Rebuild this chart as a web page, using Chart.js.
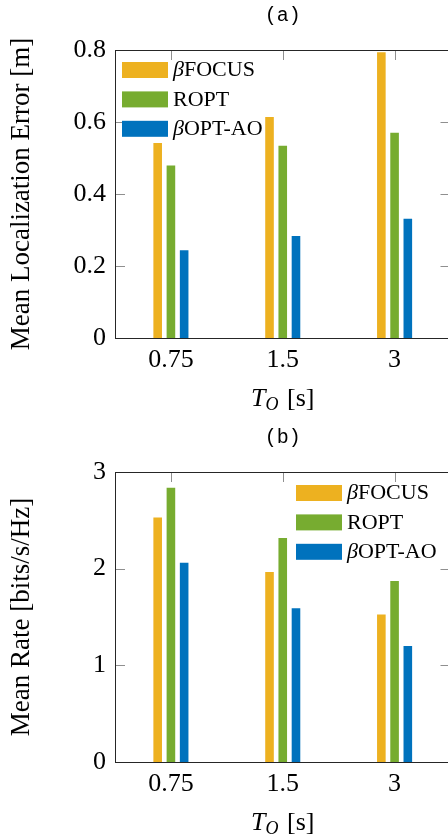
<!DOCTYPE html>
<html lang="en">
<head>
<meta charset="UTF-8">
<title>Mean localization error and mean rate vs T_O</title>
<script src="https://cdn.jsdelivr.net/npm/chart.js"></script>
<style>
    html, body { margin: 0; padding: 0; background: #fff; overflow: hidden; width: 448px; height: 835px; }
    .panel { position: absolute; left: 0; width: 460px; }
    #panel-a { top: 0; height: 412px; }
    #panel-b { top: 420px; height: 415px; }
</style>
</head>
<body>
<div class="panel" id="panel-a"><canvas id="error-chart"></canvas></div>
<div class="panel" id="panel-b"><canvas id="rate-chart"></canvas></div>

<script>
// categories: observation time T_O [s]
const periods = ['0.75', '1.5', '3'];
const methods = ['βFOCUS', 'ROPT', 'βOPT-AO'];
const methodColors = ['#EDB120', '#77AC30', '#0072BD'];

// (a) mean localization error [m]
const errorFocus = [0.542, 0.614, 0.794];
const errorRopt  = [0.479, 0.534, 0.570];
const errorAo    = [0.244, 0.283, 0.331];
const errorTicks = [0, 0.2, 0.4, 0.6, 0.8];

// (b) mean rate [bits/s/Hz]
const rateFocus = [2.53, 1.966, 1.527];
const rateRopt  = [2.836, 2.318, 1.873];
const rateAo    = [2.06, 1.59, 1.199];
const rateTicks = [0, 1, 2, 3];

const SERIF = '"Liberation Serif", "DejaVu Serif", serif';
const MONO = '"Liberation Mono", "DejaVu Sans Mono", monospace';

// draws a label whose leading beta is italic, like the LaTeX original
function drawMixedLabel(ctx, text, x, y, size) {
    let cx = x;
    if (text.startsWith('β')) {
        ctx.font = `italic ${size}px ${SERIF}`;
        ctx.fillText('β', cx, y);
        cx += ctx.measureText('β').width;
        text = text.slice(1);
    }
    ctx.font = `${size}px ${SERIF}`;
    ctx.fillText(text, cx, y);
}

// inward tick marks (drawn under the bars) and the axis box
const framePlugin = {
    id: 'frame',
    beforeDatasetsDraw(chart) {
        const { ctx, chartArea: a, scales: { x, y } } = chart;
        ctx.save();
        ctx.strokeStyle = '#8f8f8f';
        ctx.lineWidth = 1;
        ctx.beginPath();
        x.ticks.forEach((t, i) => {
            const px = Math.round(x.getPixelForTick(i)) + 0.5;
            ctx.moveTo(px, a.top); ctx.lineTo(px, a.top + 10);
            ctx.moveTo(px, a.bottom); ctx.lineTo(px, a.bottom - 10);
        });
        y.ticks.forEach(t => {
            const py = Math.round(y.getPixelForValue(t.value)) + 0.5;
            ctx.moveTo(a.left, py); ctx.lineTo(a.left + 10, py);
            ctx.moveTo(a.right, py); ctx.lineTo(a.right - 10, py);
        });
        ctx.stroke();
        ctx.restore();
    },
    afterDatasetsDraw(chart) {
        const { ctx, chartArea: a } = chart;
        ctx.save();
        ctx.strokeStyle = '#262626';
        ctx.lineWidth = 1;
        ctx.strokeRect(Math.round(a.left) + 0.5, Math.round(a.top) + 0.5,
            Math.round(a.right - a.left), Math.round(a.bottom - a.top));
        ctx.restore();
    }
};

// panel title, rotated y title, x title with subscript, and the legend box
const textPlugin = {
    id: 'panelText',
    afterDraw(chart, args, opts) {
        const { ctx, chartArea: a } = chart;
        const midX = (a.left + a.right) / 2;
        ctx.save();
        ctx.fillStyle = '#000';

        ctx.font = `20px ${MONO}`;
        ctx.textAlign = 'center';
        ctx.textBaseline = 'middle';
        ctx.fillText(opts.title, midX, opts.titleY);

        ctx.save();
        ctx.translate(22, (a.top + a.bottom) / 2);
        ctx.rotate(-Math.PI / 2);
        ctx.font = `27px ${SERIF}`;
        ctx.fillText(opts.yTitle, 0, 0);
        ctx.restore();

        // T_O [s]
        ctx.textAlign = 'left';
        ctx.textBaseline = 'alphabetic';
        const base = a.bottom + 68;
        ctx.font = `italic 26px ${SERIF}`;
        const wT = ctx.measureText('T').width;
        ctx.font = `italic 18px ${SERIF}`;
        const wO = ctx.measureText('O').width;
        ctx.font = `26px ${SERIF}`;
        const wS = ctx.measureText(' [s]').width;
        let cx = midX - (wT + wO + 2 + wS) / 2;
        ctx.font = `italic 26px ${SERIF}`;
        ctx.fillText('T', cx, base);
        cx += wT;
        ctx.font = `italic 18px ${SERIF}`;
        ctx.fillText('O', cx, base + 4);
        cx += wO + 2;
        ctx.font = `26px ${SERIF}`;
        ctx.fillText(' [s]', cx, base);

        // legend
        ctx.textBaseline = 'middle';
        chart.data.datasets.forEach((ds, i) => {
            const top = opts.legendY + i * 29.4;
            ctx.fillStyle = ds.backgroundColor;
            ctx.fillRect(opts.legendX, top, 46, 16);
            ctx.fillStyle = '#000';
            drawMixedLabel(ctx, ds.label, opts.legendX + 51, top + 8.5, 22);
        });
        ctx.restore();
    }
};

function buildChart(canvasId, series, tickValues, yMax, cfg) {
    return new Chart(document.getElementById(canvasId), {
        type: 'bar',
        data: {
            labels: periods,
            datasets: series.map((values, i) => ({
                label: methods[i],
                data: values,
                backgroundColor: methodColors[i],
                borderWidth: 0,
                barPercentage: 0.65,
                categoryPercentage: 0.355
            }))
        },
        options: {
            responsive: true,
            maintainAspectRatio: false,
            animation: false,
            layout: { padding: { top: cfg.top, right: 9.5, left: 0, bottom: 0 } },
            scales: {
                x: {
                    grid: { display: false, drawTicks: false },
                    border: { display: false },
                    ticks: { color: '#000', font: { family: SERIF, size: 26 }, padding: 7, maxRotation: 0 },
                    afterFit: s => { s.height = s.chart.height - cfg.bottom; }
                },
                y: {
                    min: 0,
                    max: yMax,
                    grid: { display: false, drawTicks: false },
                    border: { display: false },
                    ticks: { color: '#000', font: { family: SERIF, size: 26 }, padding: 9 },
                    afterBuildTicks: s => { s.ticks = tickValues.map(v => ({ value: v })); },
                    afterFit: s => { s.width = 115; }
                }
            },
            plugins: {
                legend: { display: false },
                tooltip: { enabled: false },
                panelText: cfg.text
            }
        },
        plugins: [framePlugin, textPlugin]
    });
}

buildChart('error-chart', [errorFocus, errorRopt, errorAo], errorTicks, 0.8, {
    top: 50, bottom: 338,
    text: { title: '(a)', titleY: 16, yTitle: 'Mean Localization Error [m]', legendX: 122, legendY: 62 }
});

buildChart('rate-chart', [rateFocus, rateRopt, rateAo], rateTicks, 3, {
    top: 52, bottom: 342,
    text: { title: '(b)', titleY: 18, yTitle: 'Mean Rate [bits/s/Hz]', legendX: 296, legendY: 65 }
});
</script>
</body>
</html>
